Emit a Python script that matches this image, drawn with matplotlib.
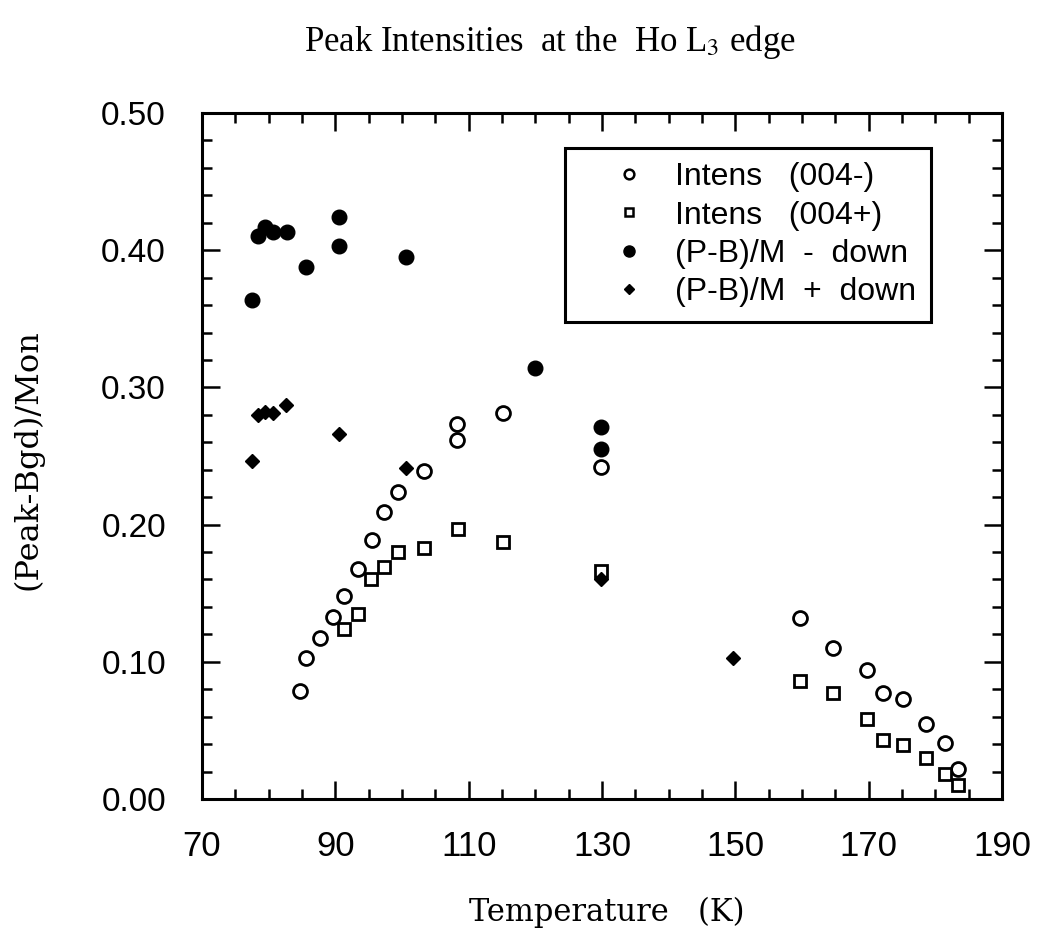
import matplotlib
matplotlib.use("Agg")
import matplotlib.pyplot as plt
from matplotlib.lines import Line2D
from matplotlib.ticker import MultipleLocator, FixedLocator, FormatStrFormatter

plt.rcParams['mathtext.fontset'] = 'stix'

# Intens (004-)  -- open circles
t_minus = [84.7, 85.6, 87.7, 89.7, 91.3, 93.4, 95.5, 97.3, 99.4, 103.3, 108.3, 108.3,
           115.2, 129.8, 159.7, 164.7, 169.7, 172.1, 175.2, 178.6, 181.5, 183.4]
i_minus = [0.079, 0.103, 0.117, 0.133, 0.148, 0.168, 0.189, 0.209, 0.224, 0.239, 0.273, 0.262,
           0.281, 0.242, 0.132, 0.110, 0.094, 0.077, 0.073, 0.055, 0.041, 0.022]

# Intens (004+)  -- open squares
t_plus = [91.3, 93.4, 95.3, 97.3, 99.4, 103.3, 108.4, 115.2, 129.8,
          159.7, 164.7, 169.7, 172.1, 175.1, 178.6, 181.5, 183.4]
i_plus = [0.124, 0.135, 0.160, 0.169, 0.180, 0.183, 0.197, 0.187, 0.166,
          0.086, 0.077, 0.058, 0.043, 0.039, 0.030, 0.018, 0.010]

# (P-B)/M - down  -- filled circles
t_pbm_minus = [77.5, 78.4, 79.4, 80.7, 82.7, 85.6, 90.6, 90.6, 100.6, 120.0, 129.8, 129.8]
v_pbm_minus = [0.364, 0.410, 0.417, 0.413, 0.413, 0.388, 0.424, 0.403, 0.395, 0.314, 0.271, 0.255]

# (P-B)/M + down  -- filled diamonds
t_pbm_plus = [77.5, 78.4, 79.4, 80.7, 82.6, 90.6, 100.6, 129.8, 149.7]
v_pbm_plus = [0.246, 0.280, 0.282, 0.281, 0.287, 0.266, 0.241, 0.160, 0.103]

labels = ["Intens   (004-)", "Intens   (004+)", "(P-B)/M  -  down", "(P-B)/M  +  down"]
xticks = [70, 90, 110, 130, 150, 170, 190]

fig = plt.figure(figsize=(10.38, 9.42), dpi=100)
ax = fig.add_axes([202 / 1038, 1 - 799 / 942, 800 / 1038, 686 / 942])

ax.plot(t_minus, i_minus, 'o', ms=10, mfc='white', mec='black', mew=2, ls='none')
ax.plot(t_plus, i_plus, 's', ms=8.5, mfc='white', mec='black', mew=2, ls='none')
ax.plot(t_pbm_minus, v_pbm_minus, 'o', ms=10.5, color='black', ls='none')
ax.plot(t_pbm_plus, v_pbm_plus, 'D', ms=7, color='black', ls='none')

ax.set_xlim(70, 190)
ax.set_ylim(0.0, 0.5)
ax.xaxis.set_major_locator(FixedLocator(xticks))
ax.xaxis.set_minor_locator(MultipleLocator(5))
ax.yaxis.set_major_locator(MultipleLocator(0.1))
ax.yaxis.set_minor_locator(MultipleLocator(0.02))
ax.yaxis.set_major_formatter(FormatStrFormatter('%.2f'))

ax.tick_params(which='both', direction='in', top=True, right=True, width=1.8)
ax.tick_params(which='major', length=13)
ax.tick_params(which='minor', length=7)
ax.tick_params(axis='y', which='major', pad=26)
ax.tick_params(axis='x', which='major', pad=22)
for lab in ax.get_yticklabels():
    lab.set_fontfamily('Liberation Sans')
    lab.set_fontsize(24)
for lab in ax.get_xticklabels():
    lab.set_fontfamily('Liberation Sans')
    lab.set_fontsize(25)
for s in ax.spines.values():
    s.set_linewidth(2.2)

handles = [
    Line2D([], [], marker='o', ls='none', ms=7, mfc='white', mec='black', mew=1.8),
    Line2D([], [], marker='s', ls='none', ms=6, mfc='white', mec='black', mew=1.8),
    Line2D([], [], marker='o', ls='none', ms=8, color='black'),
    Line2D([], [], marker='D', ls='none', ms=5.5, color='black'),
]
leg = ax.legend(handles, labels, loc='upper left', bbox_to_anchor=(0.454, 0.949),
                prop={'family': 'Liberation Sans', 'size': 23},
                frameon=True, fancybox=False, edgecolor='black', framealpha=1,
                borderpad=0.45, labelspacing=0.26, handletextpad=-0.1,
                handlelength=3.1, borderaxespad=0)
leg.get_frame().set_linewidth(2.2)

fig.text(550 / 1038, 1 - 42 / 942, r"Peak Intensities  at the  Ho L$_3$ edge",
         ha='center', va='center', fontsize=25, family='Liberation Serif')
fig.text(28 / 1038, 1 - 460 / 942, "(Peak-Bgd)/Mon", rotation=90,
         ha='center', va='center', fontsize=23, family='DejaVu Serif')
fig.text(607 / 1038, 1 - 912 / 942, "Temperature   (K)",
         ha='center', va='center', fontsize=22, family='DejaVu Serif')

fig.savefig("out.png", dpi=100)
